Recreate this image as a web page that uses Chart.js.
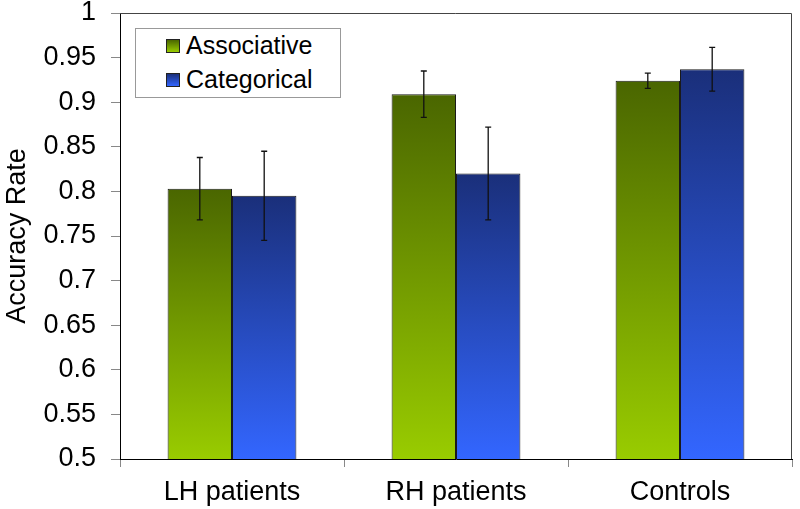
<!DOCTYPE html>
<html>
<head>
<meta charset="utf-8">
<script src="https://cdn.jsdelivr.net/npm/chart.js@4/dist/chart.umd.min.js"></script>
<style>
	body { margin: 0; background: #fff; }
	#wrap { position: relative; width: 800px; height: 509px; }
	#legend {
		position: absolute; left: 135px; top: 28px; width: 204px; height: 68px;
		border: 1px solid #999; background: #fff;
		font-family: "Liberation Sans", Arial, sans-serif; font-size: 25px; color: #000;
	}
	.row { position: absolute; left: 30px; height: 30px; line-height: 30px; white-space: nowrap; }
	.sw { display: inline-block; width: 12px; height: 12px; border: 1px solid #222; margin-right: 6px; vertical-align: 1px; }
</style>
</head>
<body>
<div id="wrap">
	<canvas id="chart" width="800" height="509"></canvas>
	<div id="legend">
		<div class="row" style="top:1px"><span class="sw" style="background:linear-gradient(#4a6600,#99cc00)"></span>Associative</div>
		<div class="row" style="top:35px"><span class="sw" style="background:linear-gradient(#1a2f7a,#3366ff)"></span>Categorical</div>
	</div>
</div>
<script>
const groups = ["LH patients", "RH patients", "Controls"];
const associative = [0.803, 0.909, 0.924];
const associativeErr = [0.035, 0.026, 0.0085];
const categorical = [0.795, 0.820, 0.937];
const categoricalErr = [0.050, 0.052, 0.0245];
const yTicks = [0.5, 0.55, 0.6, 0.65, 0.7, 0.75, 0.8, 0.85, 0.9, 0.95, 1];

const font = "'Liberation Sans', Arial, sans-serif";

function barFill(top, bottom) {
	return (c) => {
		const chart = c.chart;
		if (!chart.chartArea || c.type !== "data") return bottom;
		const y = chart.scales.y;
		const y0 = y.getPixelForValue(c.raw);
		const y1 = y.getPixelForValue(y.min);
		const g = chart.ctx.createLinearGradient(0, y0, 0, y1);
		g.addColorStop(0, top);
		g.addColorStop(1, bottom);
		return g;
	};
}

const errorBars = {
	id: "errorBars",
	afterDatasetsDraw(chart) {
		const ctx = chart.ctx;
		const y = chart.scales.y;
		ctx.save();
		ctx.strokeStyle = "#111";
		ctx.lineWidth = 1.3;
		chart.data.datasets.forEach((ds, i) => {
			const meta = chart.getDatasetMeta(i);
			meta.data.forEach((bar, j) => {
				const v = ds.data[j], e = ds.err[j];
				const hi = y.getPixelForValue(v + e);
				const lo = y.getPixelForValue(v - e);
				ctx.beginPath();
				ctx.moveTo(bar.x, hi); ctx.lineTo(bar.x, lo);
				ctx.moveTo(bar.x - 3, hi); ctx.lineTo(bar.x + 3, hi);
				ctx.moveTo(bar.x - 3, lo); ctx.lineTo(bar.x + 3, lo);
				ctx.stroke();
			});
		});
		ctx.restore();
	},
	afterDraw(chart) {
		// top and right frame of the plot area
		const { ctx, chartArea: a } = chart;
		ctx.save();
		ctx.strokeStyle = "#444";
		ctx.lineWidth = 1;
		ctx.beginPath();
		ctx.moveTo(a.left, a.top + 0.5);
		ctx.lineTo(a.right - 0.5, a.top + 0.5);
		ctx.lineTo(a.right - 0.5, a.bottom);
		ctx.stroke();
		ctx.restore();
	},
};

const config = {
	type: "bar",
	data: {
		labels: groups,
		datasets: [
			{
				label: "Associative",
				data: associative,
				err: associativeErr,
				backgroundColor: barFill("#4a6600", "#99cc00"),
				borderColor: "#1a1a1a",
				borderWidth: 1,
				borderSkipped: false,
			},
			{
				label: "Categorical",
				data: categorical,
				err: categoricalErr,
				backgroundColor: barFill("#1a2f7a", "#3366ff"),
				borderColor: "#1a1a1a",
				borderWidth: 1,
				borderSkipped: false,
			},
		],
	},
	options: {
		responsive: false,
		animation: false,
		devicePixelRatio: 1,
		layout: { padding: { top: 13, right: 8, left: 0, bottom: 0 } },
		plugins: { legend: { display: false }, tooltip: { enabled: false } },
		datasets: { bar: { categoryPercentage: 0.575, barPercentage: 1 } },
		scales: {
			x: {
				grid: { drawOnChartArea: false, tickLength: 8, color: "#888" },
				border: { color: "#000", width: 1 },
				ticks: { color: "#000", padding: 12, font: { family: font, size: 27, lineHeight: 1 } },
				afterFit: (s) => { s.height = 50; },
			},
			y: {
				min: 0.5,
				max: 1,
				afterBuildTicks: (s) => { s.ticks = yTicks.map((v) => ({ value: v })); },
				grid: { drawOnChartArea: false, tickLength: 9, color: "#888" },
				border: { color: "#000", width: 1 },
				ticks: {
					color: "#000",
					padding: 15,
					font: { family: font, size: 27, lineHeight: 1 },
					callback: (v) => String(+v.toFixed(2)),
				},
				title: {
					display: true,
					text: "Accuracy Rate",
					color: "#000",
					padding: { top: 1, bottom: 0 },
					font: { family: font, size: 27, lineHeight: 1.2 },
				},
				afterFit: (s) => { s.width = 120; s.paddingTop = 0; s.paddingBottom = 0; },
			},
		},
	},
	plugins: [errorBars],
};

const chart = new Chart(document.getElementById("chart"), config);
</script>
</body>
</html>
